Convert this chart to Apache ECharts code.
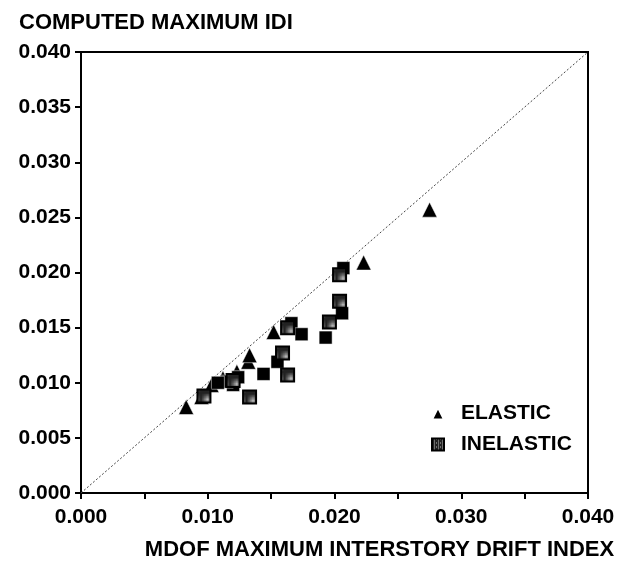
<!DOCTYPE html>
<html>
<head>
<meta charset="utf-8">
<script src="https://cdn.jsdelivr.net/npm/echarts@6/dist/echarts.min.js"></script>
<style>
  html, body { margin: 0; padding: 0; background: #fff; }
  #main { width: 625px; height: 566px; }
</style>
</head>
<body>
<div id="main"></div>
<script>
// data: [MDOF IDI, computed IDI]
var elastic = [
    [0.0083, 0.0078], [0.0095, 0.0087], [0.0103, 0.0098], [0.0112, 0.0104],
    [0.0123, 0.0110], [0.0132, 0.0119], [0.0133, 0.0125], [0.0152, 0.0146],
    [0.0223, 0.0209], [0.0275, 0.0257]
];
var inelasticHatched = [
    [0.0204, 0.0198], [0.0204, 0.0174], [0.0196, 0.0155], [0.0163, 0.0150],
    [0.0159, 0.0127], [0.0163, 0.0107], [0.0133, 0.0087], [0.0120, 0.0102],
    [0.0097, 0.0088]
];
var inelasticSolid = [
    [0.0207, 0.0204], [0.0206, 0.0163], [0.0193, 0.0141], [0.0166, 0.0154],
    [0.0174, 0.0144], [0.0155, 0.0119], [0.0144, 0.0108], [0.0120, 0.0098],
    [0.0124, 0.0105], [0.0115, 0.0101], [0.0108, 0.0100]
];
var diagonal = [[0, 0], [0.04, 0.04]];
var axisTicks = [0, 0.005, 0.010, 0.015, 0.020, 0.025, 0.030, 0.035, 0.040];

// small speckle pattern for the grey squares
var pat = document.createElement('canvas');
pat.width = 4; pat.height = 4;
var pctx = pat.getContext('2d');
pctx.fillStyle = '#222';
pctx.fillRect(0, 0, 4, 4);
pctx.fillStyle = '#bbb';
pctx.fillRect(0, 0, 1, 1);
pctx.fillRect(2, 2, 1, 1);
pctx.fillRect(2, 0, 1, 1);

var font = '"Liberation Sans", Arial, sans-serif';

var myChart = echarts.init(document.getElementById('main'), null, {renderer: 'canvas'});
var option = {
    animation: false,
    title: {
        text: 'COMPUTED MAXIMUM IDI',
        left: 14,
        top: 7,
        textStyle: { fontFamily: font, fontSize: 22, fontWeight: 'bold', color: '#000' }
    },
    grid: {
        left: 81, right: 37, top: 52, bottom: 71,
        show: true, borderColor: '#000', borderWidth: 2
    },
    legend: {
        orient: 'vertical',
        left: 426,
        top: 398,
        itemGap: 10,
        itemWidth: 12,
        itemHeight: 12,
        data: ['ELASTIC', 'INELASTIC'],
        textStyle: { fontFamily: font, fontSize: 21, fontWeight: 'bold', color: '#000', padding: [0, 0, 0, 12] }
    },
    xAxis: {
        type: 'value',
        min: axisTicks[0],
        max: axisTicks[axisTicks.length - 1],
        interval: 0.005,
        name: 'MDOF MAXIMUM INTERSTORY DRIFT INDEX',
        nameLocation: 'middle',
        nameGap: 46,
        nameTextStyle: { fontFamily: font, fontSize: 22, fontWeight: 'bold', color: '#000', padding: [0, 0, 0, 90] },
        axisLine: { lineStyle: { color: '#000', width: 2 } },
        axisTick: { inside: false, length: 6, lineStyle: { color: '#000', width: 2 } },
        axisLabel: {
            margin: 14,
            fontFamily: font, fontSize: 21, fontWeight: 'bold', color: '#000',
            formatter: function (v) {
                var k = Math.round(v / 0.005);
                return k % 2 === 0 ? v.toFixed(3) : '';
            }
        },
        splitLine: { show: false }
    },
    yAxis: {
        type: 'value',
        min: axisTicks[0],
        max: axisTicks[axisTicks.length - 1],
        interval: 0.005,
        axisLine: { lineStyle: { color: '#000', width: 2 } },
        axisTick: { inside: false, length: 6, lineStyle: { color: '#000', width: 2 } },
        axisLabel: {
            margin: 10,
            fontFamily: font, fontSize: 21, fontWeight: 'bold', color: '#000',
            formatter: function (v) { return v.toFixed(3); }
        },
        splitLine: { show: false }
    },
    series: [
        {
            name: 'diagonal',
            type: 'line',
            data: diagonal,
            symbol: 'none',
            silent: true,
            lineStyle: { color: '#444', width: 1, type: [2, 2] },
            z: 1
        },
        {
            name: 'ELASTIC',
            type: 'scatter',
            symbol: 'triangle',
            symbolSize: 15,
            data: elastic,
            itemStyle: { color: '#000', borderColor: '#fff', borderWidth: 0.5, opacity: 1 },
            z: 3
        },
        {
            name: 'INELASTIC',
            type: 'scatter',
            symbol: 'rect',
            symbolSize: 13,
            data: inelasticHatched,
            itemStyle: { color: { image: pat, repeat: 'repeat' }, borderColor: '#000', borderWidth: 2, opacity: 1 },
            z: 4
        },
        {
            name: 'INELASTIC',
            type: 'scatter',
            symbol: 'rect',
            symbolSize: 13,
            data: inelasticSolid,
            itemStyle: { color: '#000', borderColor: '#fff', borderWidth: 0.5, opacity: 1 },
            z: 3
        }
    ]
};
myChart.setOption(option);
</script>
</body>
</html>
